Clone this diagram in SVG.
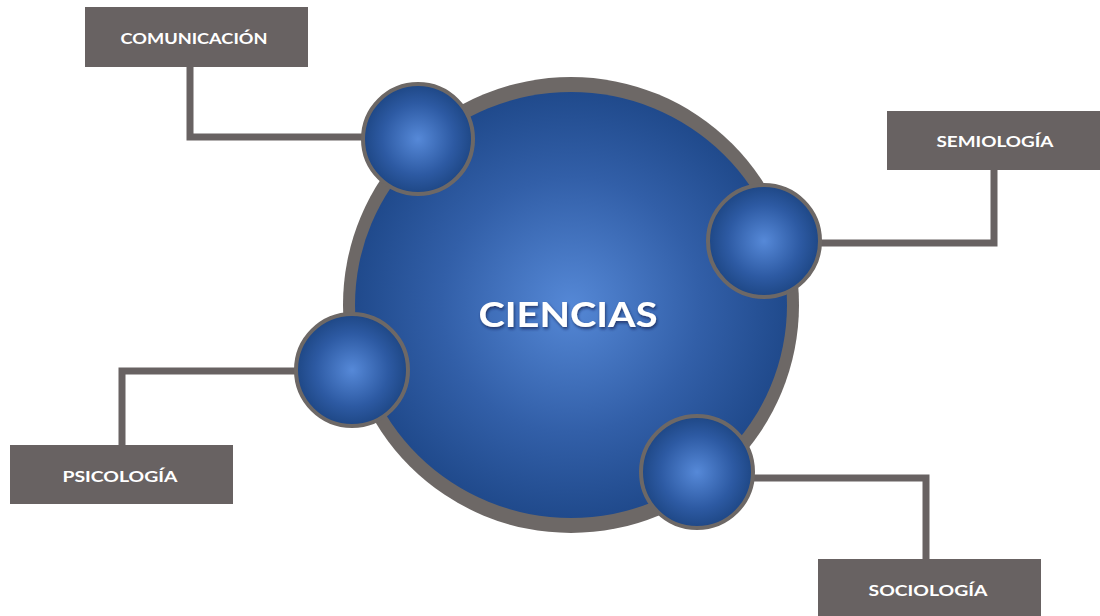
<svg xmlns="http://www.w3.org/2000/svg" width="1100" height="616" viewBox="0 0 1100 616">
<defs>
<radialGradient id="bigBlue" cx="0.5" cy="0.5" r="0.5">
<stop offset="0" stop-color="#5588d6"/>
<stop offset="0.6" stop-color="#325fa8"/>
<stop offset="1" stop-color="#204a8c"/>
</radialGradient>
<radialGradient id="smallBlue" cx="0.5" cy="0.5" r="0.5">
<stop offset="0" stop-color="#5689d8"/>
<stop offset="0.65" stop-color="#2d5aa3"/>
<stop offset="1" stop-color="#1e4785"/>
</radialGradient>
<filter id="tshadow" x="-10%" y="-30%" width="120%" height="160%">
<feDropShadow dx="1" dy="2" stdDeviation="1.5" flood-color="#0a1e44" flood-opacity="0.7"/>
</filter>
</defs>
<style>
.box{fill:#686262}
.lbl{fill:#ffffff;font-family:Lato,"Liberation Sans",sans-serif;font-weight:bold;font-size:16px;text-anchor:middle}
.conn{fill:none;stroke:#686262;stroke-width:7;stroke-linejoin:miter}
.small{fill:url(#smallBlue);stroke:#6d6866;stroke-width:4}
</style>
<rect width="1100" height="616" fill="#ffffff"/>
<g id="connectors">
<polyline class="conn" points="190,67 190,137 365,137"/>
<polyline class="conn" points="820,243 994,243 994,170"/>
<polyline class="conn" points="298,371 122,371 122,445"/>
<polyline class="conn" points="750,478 926,478 926,559"/>
</g>
<g id="ciencias">
<circle cx="571" cy="305" r="228" fill="#6d6866"/>
<ellipse cx="571" cy="305" rx="216" ry="213" fill="url(#bigBlue)"/>
<text x="568" y="327" fill="#ffffff" font-family="Lato,'Liberation Sans',sans-serif" font-weight="bold" font-size="34" text-anchor="middle" textLength="179" lengthAdjust="spacingAndGlyphs" filter="url(#tshadow)">CIENCIAS</text>
</g>
<g id="comunicacion">
<circle class="small" cx="418" cy="139" r="55"/>
<rect class="box" x="85" y="7" width="223" height="60"/>
<text class="lbl" x="194" y="44" textLength="147" lengthAdjust="spacingAndGlyphs">COMUNICACIÓN</text>
</g>
<g id="semiologia">
<circle class="small" cx="764" cy="241" r="56"/>
<rect class="box" x="887" y="111" width="213" height="59"/>
<text class="lbl" x="995" y="147" textLength="117" lengthAdjust="spacingAndGlyphs">SEMIOLOGÍA</text>
</g>
<g id="psicologia">
<circle class="small" cx="352" cy="370" r="56"/>
<rect class="box" x="10" y="445" width="223" height="59"/>
<text class="lbl" x="120" y="482" textLength="115" lengthAdjust="spacingAndGlyphs">PSICOLOGÍA</text>
</g>
<g id="sociologia">
<circle class="small" cx="697" cy="472" r="56"/>
<rect class="box" x="818" y="559" width="223" height="57"/>
<text class="lbl" x="928" y="596" textLength="119" lengthAdjust="spacingAndGlyphs">SOCIOLOGÍA</text>
</g>
</svg>
